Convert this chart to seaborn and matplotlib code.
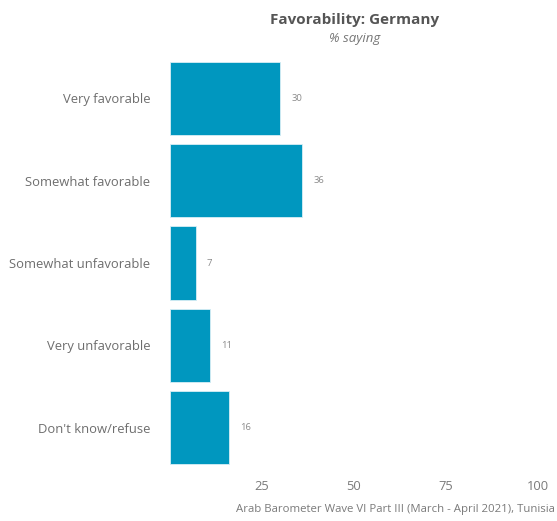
import matplotlib
matplotlib.use("Agg")
import matplotlib.pyplot as plt
import seaborn as sns
import pandas as pd

# data
categories = ["Very favorable", "Somewhat favorable", "Somewhat unfavorable",
              "Very unfavorable", "Don't know/refuse"]
values = [30, 36, 7, 11, 16]
xticks = [25, 50, 75, 100]

df = pd.DataFrame({"response": categories, "pct": values})

sns.set_style("white")
plt.rcParams["font.family"] = ["Open Sans", "DejaVu Sans"]

fig = plt.figure(figsize=(5.57, 5.21), dpi=100)
ax = fig.add_axes([0.305, 0.0998, 0.661, 0.7908])

sns.barplot(data=df, x="pct", y="response", order=categories, color="#0097BF",
            saturation=1, width=0.89, edgecolor="#d8eef5", linewidth=0.6, ax=ax)

# value labels next to each bar
for i, v in enumerate(values):
    ax.text(v + 3, i, str(v), va="center", ha="left", fontsize=6.8, color="#8a8a8a")

ax.set_xlim(0, 100)
ax.set_xticks(xticks)
ax.set_xticklabels([str(t) for t in xticks])
ax.set_xlabel("")
ax.set_ylabel("")
ax.tick_params(axis="x", colors="#7a7a7a", labelsize=9.3, length=0, pad=8)
ax.tick_params(axis="y", colors="#6e6e6e", labelsize=9.4, length=0, pad=14)
sns.despine(ax=ax, left=True, bottom=True)

fig.text(0.636, 0.962, "Favorability: Germany", ha="center", va="center",
         fontsize=11, fontweight="bold", color="#555555")
fig.text(0.636, 0.927, "% saying", ha="center", va="center",
         fontsize=9.5, style="italic", color="#777777")
fig.text(0.997, 0.012, "Arab Barometer Wave VI Part III (March - April 2021), Tunisia",
         ha="right", va="bottom", fontsize=8.2, color="#7a7a7a")

fig.savefig("out.png", dpi=100)
